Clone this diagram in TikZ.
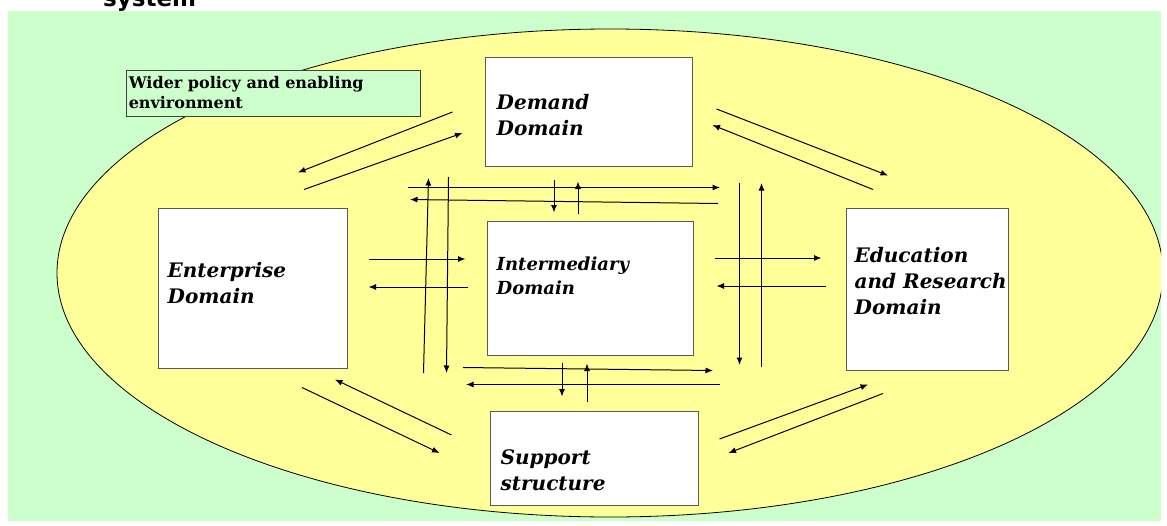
\documentclass[tikz,border=0pt]{standalone}
\usepackage{fontspec}
\setmainfont{DejaVu Serif}
\newfontfamily\titlefont{DejaVu Sans}
\usetikzlibrary{arrows.meta}

\definecolor{envgreen}{HTML}{CCFFCC}
\definecolor{sysyellow}{HTML}{FFFF99}

\begin{document}
\begin{tikzpicture}[x=1pt, y=-1pt, >={Latex[length=7.5pt,width=6pt]},
  dom/.style={draw=black!65, fill=white, line width=1pt, inner sep=0pt},
  domtxt/.style={anchor=west, align=left, inner sep=0pt,
    font=\fontsize{20}{26}\selectfont\bfseries\itshape},
  flow/.style={->, line width=1pt}]
  \useasboundingbox (0,0) rectangle (1167,525);
  % background and system ellipse
  \fill[envgreen] (8,11) rectangle (1161,521);
  \begin{scope}
    \clip (8,11) rectangle (1161,521);
    \draw[fill=sysyellow, line width=0.8pt] (610,273) ellipse [x radius=553pt, y radius=244pt];
  \end{scope}
  \node[anchor=base west, inner sep=0pt, font=\titlefont\fontsize{23}{28}\selectfont\bfseries] (systitle) at (103,6) {system};
  % policy label
  \node[draw=black!75, fill=envgreen, line width=0.8pt, minimum width=294pt, minimum height=46pt, inner sep=0pt] (policy) at (273,93) {};
  \node[anchor=west, align=left, inner sep=0pt, font=\fontsize{16}{20}\selectfont\bfseries] (policytxt) at ([shift={(3,0)}]policy.west) {Wider policy and enabling\\environment};
  % domains
  \node[dom, minimum width=207pt, minimum height=109pt] (demand) at (588.5,111.5) {};
  \node[dom, minimum width=189pt, minimum height=160pt] (enterprise) at (252.5,288) {};
  \node[dom, minimum width=206pt, minimum height=134pt] (intermediary) at (590,288) {};
  \node[dom, minimum width=162pt, minimum height=162pt] (education) at (927,289) {};
  \node[dom, minimum width=208pt, minimum height=94pt] (support) at (594,458) {};
  \node[domtxt] (demandtxt) at ([shift={(12,4)}]demand.west) {Demand\\Domain};
  \node[domtxt] (enterprisetxt) at ([shift={(10,-5)}]enterprise.west) {Enterprise\\Domain};
  \node[domtxt, font=\fontsize{18}{24}\selectfont\bfseries\itshape] (intermediarytxt) at ([shift={(10,-12)}]intermediary.west) {Intermediary\\Domain};
  \node[domtxt] (educationtxt) at ([shift={(9,-8)}]education.west) {Education\\and Research\\Domain};
  \node[domtxt] (supporttxt) at ([shift={(11,12)}]support.west) {Support\\structure};
  % enterprise <-> intermediary <-> education
  \draw[flow] ([shift={(21,-29)}]enterprise.east) -- ([shift={(-21,-29)}]intermediary.west);
  \draw[flow] ([shift={(-19,-1)}]intermediary.west) -- ([shift={(21,-1)}]enterprise.east);
  \draw[flow] ([shift={(21,-30)}]intermediary.east) -- ([shift={(-24,-31)}]education.west);
  \draw[flow] ([shift={(-20,-3)}]education.west) -- ([shift={(23,-2)}]intermediary.east);
  % crossing above intermediary
  \draw[flow] ([shift={(-182,-33)}]intermediary.north) -- ([shift={(130,-33)}]intermediary.north);
  \draw[flow] ([shift={(128,-17)}]intermediary.north) -- ([shift={(-180,-21)}]intermediary.north);
  \draw[flow] ([shift={(-34.5,13)}]demand.south) -- ([shift={(-36,-8)}]intermediary.north);
  \draw[flow] ([shift={(-12,-7)}]intermediary.north) -- ([shift={(-10.5,15)}]demand.south);
  % crossing below intermediary
  \draw[flow] ([shift={(-127,12)}]intermediary.south) -- ([shift={(123,15)}]intermediary.south);
  \draw[flow] ([shift={(130,29)}]intermediary.south) -- ([shift={(-124,29)}]intermediary.south);
  \draw[flow] ([shift={(-28,7)}]intermediary.south) -- ([shift={(-32,-14)}]support.north);
  \draw[flow] ([shift={(-7,-9)}]support.north) -- ([shift={(-3,8)}]intermediary.south);
  % long verticals
  \draw[flow] ([shift={(-63,85)}]intermediary.west) -- ([shift={(-58,-110)}]intermediary.west);
  \draw[flow] ([shift={(-38,-111)}]intermediary.west) -- ([shift={(-40,85)}]intermediary.west);
  \draw[flow] ([shift={(46,-105)}]intermediary.east) -- ([shift={(46,77)}]intermediary.east);
  \draw[flow] ([shift={(68,79)}]intermediary.east) -- ([shift={(68,-105)}]intermediary.east);
  % diagonals round the ring
  \draw[flow] ([shift={(-32,0.5)}]demand.west) -- ([shift={(45.5,-35)}]enterprise.north);
  \draw[flow] ([shift={(51.5,-18)}]enterprise.north) -- ([shift={(-22,21.5)}]demand.west);
  \draw[flow] ([shift={(24,-2.5)}]demand.east) -- ([shift={(-39,-32)}]education.north);
  \draw[flow] ([shift={(-54,-18)}]education.north) -- ([shift={(20,13.5)}]demand.east);
  \draw[flow] ([shift={(49.5,19)}]enterprise.south) -- ([shift={(-50,-5)}]support.west);
  \draw[flow] ([shift={(-38,-23)}]support.west) -- ([shift={(82.5,11)}]enterprise.south);
  \draw[flow] ([shift={(21,-19)}]support.east) -- ([shift={(-59,14)}]education.south);
  \draw[flow] ([shift={(-44,23)}]education.south) -- ([shift={(30,-5)}]support.east);
\end{tikzpicture}
\end{document}
